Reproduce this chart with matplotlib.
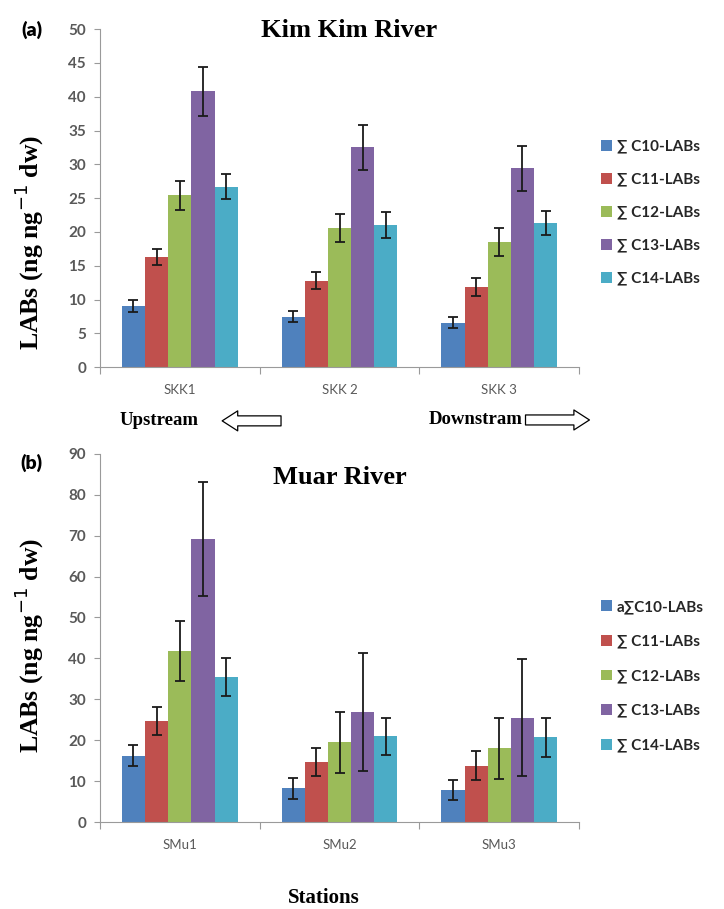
import matplotlib
matplotlib.use("Agg")
import matplotlib.pyplot as plt
import numpy as np

# data
series = ["∑ C10-LABs", "∑ C11-LABs", "∑ C12-LABs", "∑ C13-LABs", "∑ C14-LABs"]
series_b = ["a∑C10-LABs", "∑ C11-LABs", "∑ C12-LABs", "∑ C13-LABs", "∑ C14-LABs"]
colors = ["#4F81BD", "#C0504D", "#9BBB59", "#8064A2", "#4BACC6"]

kk_sites = ["SKK1", "SKK 2", "SKK 3"]
# rows = series (C10..C14), columns = sites
kk_vals = [[9.1, 7.5, 6.6],
           [16.3, 12.8, 11.9],
           [25.4, 20.6, 18.5],
           [40.8, 32.5, 29.4],
           [26.7, 21.0, 21.3]]
kk_err = [[0.9, 0.8, 0.8],
          [1.2, 1.3, 1.3],
          [2.1, 2.1, 2.1],
          [3.6, 3.3, 3.3],
          [1.8, 1.9, 1.8]]

mu_sites = ["SMu1", "SMu2", "SMu3"]
mu_vals = [[16.2, 8.2, 7.8],
           [24.7, 14.6, 13.8],
           [41.8, 19.5, 18.0],
           [69.2, 26.9, 25.5],
           [35.4, 21.0, 20.7]]
mu_err = [[2.6, 2.6, 2.4],
          [3.4, 3.4, 3.6],
          [7.3, 7.4, 7.5],
          [14.0, 14.4, 14.3],
          [4.7, 4.5, 4.8]]

sans = ["Lato", "DejaVu Sans"]
serif = ["Liberation Serif", "DejaVu Serif"]
grey = "#595959"


def panel(ax, sites, vals, errs, ymax, ystep, title, title_xy, label_y):
    centers = np.arange(len(sites)) + 0.5
    w = 0.145
    for i in range(len(vals)):
        x = centers + (i - 2) * w
        ax.bar(x, vals[i], width=w, color=colors[i], label=series[i], zorder=2)
        ax.errorbar(x, vals[i], yerr=errs[i], fmt="none", ecolor="#1a1a1a",
                    elinewidth=1.3, capsize=3.5, capthick=1.3, zorder=3)
    ax.set_xlim(0, len(sites))
    ax.set_ylim(0, ymax)
    ax.set_yticks(np.arange(0, ymax + 1, ystep))
    # ticks at category boundaries, labels at category centers
    ax.set_xticks(np.arange(len(sites) + 1))
    ax.set_xticklabels([])
    ax.set_xticks(centers, minor=True)
    ax.set_xticklabels(sites, minor=True, fontsize=9.5, color=grey, family=sans)
    ax.tick_params(axis="x", which="major", direction="out", length=5, color="#9a9a9a")
    ax.tick_params(axis="x", which="minor", length=0, pad=12)
    ax.tick_params(axis="y", direction="out", length=4, color="#9a9a9a",
                   labelsize=11, labelcolor=grey, pad=6)
    for lab in ax.get_yticklabels():
        lab.set_family(sans)
        lab.set_fontweight("bold")
    for s in ["top", "right"]:
        ax.spines[s].set_visible(False)
    for s in ["left", "bottom"]:
        ax.spines[s].set_color("#9a9a9a")
    ax.set_ylabel("LABs (ng ng$^{-1}$ dw)", family=serif, fontweight="bold",
                  fontsize=18.5)
    ax.yaxis.set_label_coords(-0.112, label_y)
    ax.text(title_xy[0], title_xy[1], title, transform=ax.transAxes,
            family=serif, fontweight="bold", fontsize=19, ha="center", va="center")


fig = plt.figure(figsize=(7.24, 9.09), dpi=100)
ax1 = fig.add_axes([0.138, 0.596, 0.662, 0.372])
ax2 = fig.add_axes([0.138, 0.0957, 0.662, 0.405])

panel(ax1, kk_sites, kk_vals, kk_err, 50, 5, "Kim Kim River", (0.52, 0.995), 0.37)
panel(ax2, mu_sites, mu_vals, mu_err, 90, 10, "Muar River", (0.50, 0.935), 0.48)

leg_kw = dict(loc="center left", frameon=False, handlelength=0.7, handleheight=0.7,
              handletextpad=0.3, prop={"family": sans, "size": 11, "weight": "bold"},
              labelcolor="#262626", borderaxespad=0)
h1, _ = ax1.get_legend_handles_labels()
fig.legend(h1, series, bbox_to_anchor=(0.822, 0.766), labelspacing=1.25, **leg_kw)
h2, _ = ax2.get_legend_handles_labels()
fig.legend(h2, series_b, bbox_to_anchor=(0.822, 0.256), labelspacing=1.35, **leg_kw)

fig.text(0.030, 0.967, "(a)", family=sans, fontweight="heavy", fontsize=14, va="center")
fig.text(0.028, 0.491, "(b)", family=sans, fontweight="heavy", fontsize=14, va="center")

# upstream / downstream annotations
fig.text(0.165, 0.537, "Upstream", family=serif, fontweight="bold", fontsize=13.5,
         va="center")
fig.text(0.592, 0.538, "Downstram", family=serif, fontweight="bold", fontsize=13.5,
         va="center")
arrow_kw = dict(arrowstyle="simple,head_length=0.7,head_width=0.9,tail_width=0.45",
                fc="white", ec="black", lw=0.9, mutation_scale=16)
fig.patches.append(matplotlib.patches.FancyArrowPatch(
    (0.392, 0.537), (0.303, 0.537), transform=fig.transFigure, **arrow_kw))
fig.patches.append(matplotlib.patches.FancyArrowPatch(
    (0.722, 0.538), (0.818, 0.538), transform=fig.transFigure, **arrow_kw))

fig.text(0.447, 0.012, "Stations", family=serif, fontweight="bold", fontsize=15,
         ha="center", va="center")

fig.savefig("out.png", dpi=100)
